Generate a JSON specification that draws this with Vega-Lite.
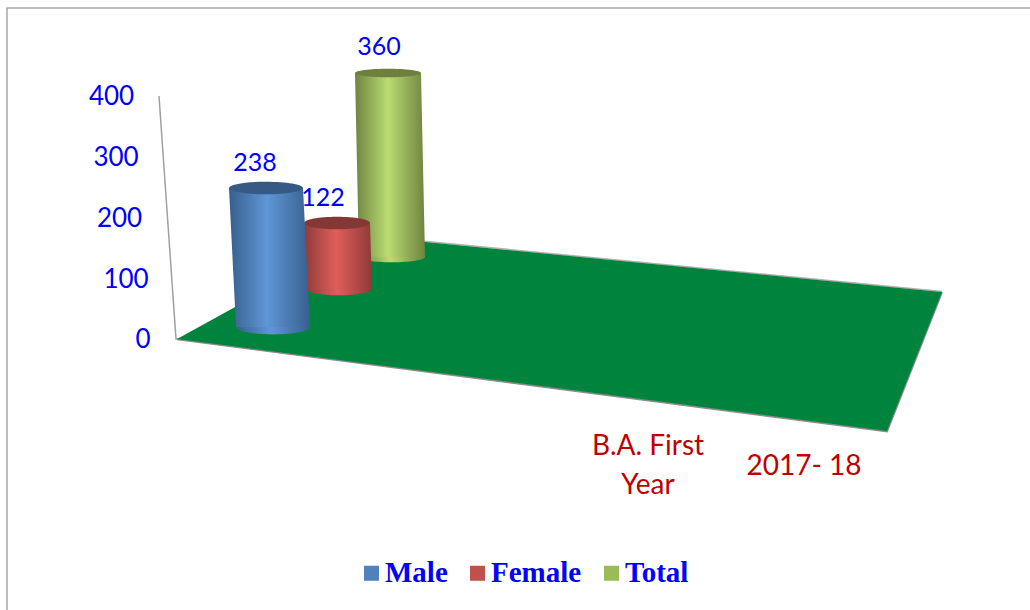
{
"$schema":"https://vega.github.io/schema/vega-lite/v6.json",
"width":1030,"height":610,"padding":0,"autosize":{"type":"fit","contains":"padding"},
"background":"white","view":{"stroke":null},
"datasets":{
"cylinders":[
{"series":"Male","value":238,"end":"base","level":19.75,"left":236,"right":310},
{"series":"Male","value":238,"end":"top","level":248.6,"left":229,"right":303},
{"series":"Female","value":122,"end":"base","level":82.3,"left":306,"right":372},
{"series":"Female","value":122,"end":"top","level":190.9,"left":304,"right":370},
{"series":"Total","value":360,"end":"base","level":135,"left":359,"right":425},
{"series":"Total","value":360,"end":"top","level":437.9,"left":355,"right":421}],
"floor":[{"u":177,"back":0,"front":0},{"u":364,"back":169.5,"front":-39.8},{"u":887,"back":86.1,"front":-151.4},{"u":942,"back":77.4,"front":77.4}],
"frontEdge":[{"u":177,"v":-0.5},{"u":887,"v":-152},{"u":942,"v":77}],
"backEdge":[{"u":364,"v":170.5},{"u":942,"v":78}],
"wall":[{"u":159,"v":400},{"u":176,"v":0},{"u":180,"v":-0.5}],
"frame":[{"u":7,"v":-446},{"u":7,"v":544.9},{"u":1030,"v":544.9}],
"ticks":[{"tick":0,"u":143},{"tick":100,"u":126},{"tick":200,"u":119.5},{"tick":300,"u":116},{"tick":400,"u":111.5}],
"valueLabels":[{"series":"Male","value":238,"u":255,"v":290},{"series":"Female","value":122,"u":323,"v":232.5},{"series":"Total","value":360,"u":379,"v":481}],
"categories":[{"label":"B.A. First\nYear","u":648,"v":-178},{"label":"2017- 18","u":804,"v":-211}]
},
"layer":[
{"data":{"name":"frame"},"mark":{"type":"line","color":"#a6a6a6","strokeWidth":1.5,"clip":true},
 "encoding":{"x":{"field":"u","type":"quantitative","axis":null,"scale":{"domain":[0,1030],"nice":false,"zero":false}},"y":{"field":"v","type":"quantitative","axis":null,"scale":{"domain":[-446.09,558.02],"nice":false,"zero":false}},"order":{"value":0}}},
{"data":{"name":"cylinders"},"transform":[{"filter":"datum.end==='base'"},{"calculate":"(datum.left+datum.right)/2","as":"mid"}],
 "mark":{"type":"point","filled":true,"shape":"square","size":1,"opacity":1},
 "encoding":{"x":{"field":"mid","type":"quantitative"},"y":{"field":"level","type":"quantitative"},
 "color":{"field":"series","type":"nominal","scale":{"domain":["Male","Female","Total"],"range":["#4f81bd","#c0504d","#9bbb59"]},
  "legend":{"title":null,"orient":"none","legendX":357,"legendY":558.5,"direction":"horizontal","symbolType":"square","symbolSize":225,"symbolOpacity":1,"symbolStrokeWidth":0,"labelFont":"Liberation Serif","labelFontWeight":"bold","labelFontSize":29,"labelColor":"#0000ff","labelOffset":-1,"columnPadding":15,"labelLimit":200}}}},
{"data":{"name":"wall"},"mark":{"type":"line","color":"#a0a0a0","strokeWidth":1.5},"encoding":{"x":{"field":"u","type":"quantitative"},"y":{"field":"v","type":"quantitative"},"order":{"field":"v","sort":"descending"}}},
{"data":{"name":"frontEdge"},"mark":{"type":"line","color":"#8c8c8c","strokeWidth":2},"encoding":{"x":{"field":"u","type":"quantitative"},"y":{"field":"v","type":"quantitative"}}},
{"data":{"name":"backEdge"},"mark":{"type":"line","color":"#b0b0b0","strokeWidth":1.5},"encoding":{"x":{"field":"u","type":"quantitative"},"y":{"field":"v","type":"quantitative"}}},
{"data":{"name":"floor"},"mark":{"type":"area","color":"#00843d","opacity":1},"encoding":{"x":{"field":"u","type":"quantitative"},"y":{"field":"back","type":"quantitative"},"y2":{"field":"front"}}},

{"data":{"name":"cylinders"},"transform":[{"filter":"datum.series==='Total'&&datum.end==='base'"},{"calculate":"(datum.left+datum.right)/2","as":"mid"},{"calculate":"(datum.right-datum.left)*(datum.right-datum.left)","as":"d2"}],
 "mark":{"type":"point","filled":true,"opacity":1,"strokeWidth":0,"shape":"M-1,0A1,0.16,0,1,1,1,0A1,0.16,0,1,1,-1,0Z","fill":{"gradient":"linear","x1":0,"x2":1,"y1":0,"y2":0,"stops":[{"offset":0,"color":"#6f8440"},{"offset":0.47,"color":"#b9dc72"},{"offset":1,"color":"#6f8440"}]}},
 "encoding":{"x":{"field":"mid","type":"quantitative"},"y":{"field":"level","type":"quantitative"},"size":{"field":"d2","type":"quantitative","scale":null}}},
{"data":{"name":"cylinders"},"transform":[{"filter":"datum.series==='Total'"}],
 "mark":{"type":"area","orient":"horizontal","opacity":1,"fill":{"gradient":"linear","x1":0,"x2":1,"y1":0,"y2":0,"stops":[{"offset":0,"color":"#6f8440"},{"offset":0.47,"color":"#b9dc72"},{"offset":1,"color":"#6f8440"}]}},
 "encoding":{"x":{"field":"left","type":"quantitative"},"x2":{"field":"right"},"y":{"field":"level","type":"quantitative"}}},
{"data":{"name":"cylinders"},"transform":[{"filter":"datum.series==='Total'&&datum.end==='top'"},{"calculate":"(datum.left+datum.right)/2","as":"mid"},{"calculate":"(datum.right-datum.left)*(datum.right-datum.left)","as":"d2"}],
 "mark":{"type":"point","filled":true,"opacity":1,"strokeWidth":0,"shape":"M-1,0A1,0.13,0,1,1,1,0A1,0.13,0,1,1,-1,0Z","fill":"#6d8040"},
 "encoding":{"x":{"field":"mid","type":"quantitative"},"y":{"field":"level","type":"quantitative"},"size":{"field":"d2","type":"quantitative","scale":null}}},

{"data":{"name":"cylinders"},"transform":[{"filter":"datum.series==='Female'&&datum.end==='base'"},{"calculate":"(datum.left+datum.right)/2","as":"mid"},{"calculate":"(datum.right-datum.left)*(datum.right-datum.left)","as":"d2"}],
 "mark":{"type":"point","filled":true,"opacity":1,"strokeWidth":0,"shape":"M-1,0A1,0.19,0,1,1,1,0A1,0.19,0,1,1,-1,0Z","fill":{"gradient":"linear","x1":0,"x2":1,"y1":0,"y2":0,"stops":[{"offset":0,"color":"#8f3a38"},{"offset":0.47,"color":"#df5f5c"},{"offset":1,"color":"#8f3a38"}]}},
 "encoding":{"x":{"field":"mid","type":"quantitative"},"y":{"field":"level","type":"quantitative"},"size":{"field":"d2","type":"quantitative","scale":null}}},
{"data":{"name":"cylinders"},"transform":[{"filter":"datum.series==='Female'"}],
 "mark":{"type":"area","orient":"horizontal","opacity":1,"fill":{"gradient":"linear","x1":0,"x2":1,"y1":0,"y2":0,"stops":[{"offset":0,"color":"#8f3a38"},{"offset":0.47,"color":"#df5f5c"},{"offset":1,"color":"#8f3a38"}]}},
 "encoding":{"x":{"field":"left","type":"quantitative"},"x2":{"field":"right"},"y":{"field":"level","type":"quantitative"}}},
{"data":{"name":"cylinders"},"transform":[{"filter":"datum.series==='Female'&&datum.end==='top'"},{"calculate":"(datum.left+datum.right)/2","as":"mid"},{"calculate":"(datum.right-datum.left)*(datum.right-datum.left)","as":"d2"}],
 "mark":{"type":"point","filled":true,"opacity":1,"strokeWidth":0,"shape":"M-1,0A1,0.19,0,1,1,1,0A1,0.19,0,1,1,-1,0Z","fill":"#843836"},
 "encoding":{"x":{"field":"mid","type":"quantitative"},"y":{"field":"level","type":"quantitative"},"size":{"field":"d2","type":"quantitative","scale":null}}},

{"data":{"name":"cylinders"},"transform":[{"filter":"datum.series==='Male'&&datum.end==='base'"},{"calculate":"(datum.left+datum.right)/2","as":"mid"},{"calculate":"(datum.right-datum.left)*(datum.right-datum.left)","as":"d2"}],
 "mark":{"type":"point","filled":true,"opacity":1,"strokeWidth":0,"shape":"M-1,0A1,0.2,0,1,1,1,0A1,0.2,0,1,1,-1,0Z","fill":{"gradient":"linear","x1":0,"x2":1,"y1":0,"y2":0,"stops":[{"offset":0,"color":"#375f8e"},{"offset":0.47,"color":"#6096d6"},{"offset":1,"color":"#375f8e"}]}},
 "encoding":{"x":{"field":"mid","type":"quantitative"},"y":{"field":"level","type":"quantitative"},"size":{"field":"d2","type":"quantitative","scale":null}}},
{"data":{"name":"cylinders"},"transform":[{"filter":"datum.series==='Male'"}],
 "mark":{"type":"area","orient":"horizontal","opacity":1,"fill":{"gradient":"linear","x1":0,"x2":1,"y1":0,"y2":0,"stops":[{"offset":0,"color":"#375f8e"},{"offset":0.47,"color":"#6096d6"},{"offset":1,"color":"#375f8e"}]}},
 "encoding":{"x":{"field":"left","type":"quantitative"},"x2":{"field":"right"},"y":{"field":"level","type":"quantitative"}}},
{"data":{"name":"cylinders"},"transform":[{"filter":"datum.series==='Male'&&datum.end==='top'"},{"calculate":"(datum.left+datum.right)/2","as":"mid"},{"calculate":"(datum.right-datum.left)*(datum.right-datum.left)","as":"d2"}],
 "mark":{"type":"point","filled":true,"opacity":1,"strokeWidth":0,"shape":"M-1,0A1,0.17,0,1,1,1,0A1,0.17,0,1,1,-1,0Z","fill":"#365a85"},
 "encoding":{"x":{"field":"mid","type":"quantitative"},"y":{"field":"level","type":"quantitative"},"size":{"field":"d2","type":"quantitative","scale":null}}},

{"data":{"name":"ticks"},"mark":{"type":"text","font":"Lato","fontSize":26,"color":"#0000ff","align":"center","baseline":"middle","dy":1.5},
 "encoding":{"x":{"field":"u","type":"quantitative"},"y":{"field":"tick","type":"quantitative"},"text":{"field":"tick","type":"nominal"}}},
{"data":{"name":"valueLabels"},"mark":{"type":"text","font":"Lato","fontSize":25,"color":"#0000ff","align":"center","baseline":"middle"},
 "encoding":{"x":{"field":"u","type":"quantitative"},"y":{"field":"v","type":"quantitative"},"text":{"field":"value","type":"nominal"}}},
{"data":{"name":"categories"},"mark":{"type":"text","font":"Lato","fontSize":28,"color":"#c00000","align":"center","baseline":"middle","lineBreak":"\n","lineHeight":39},
 "encoding":{"x":{"field":"u","type":"quantitative"},"y":{"field":"v","type":"quantitative"},"text":{"field":"label","type":"nominal"}}}
]
}
